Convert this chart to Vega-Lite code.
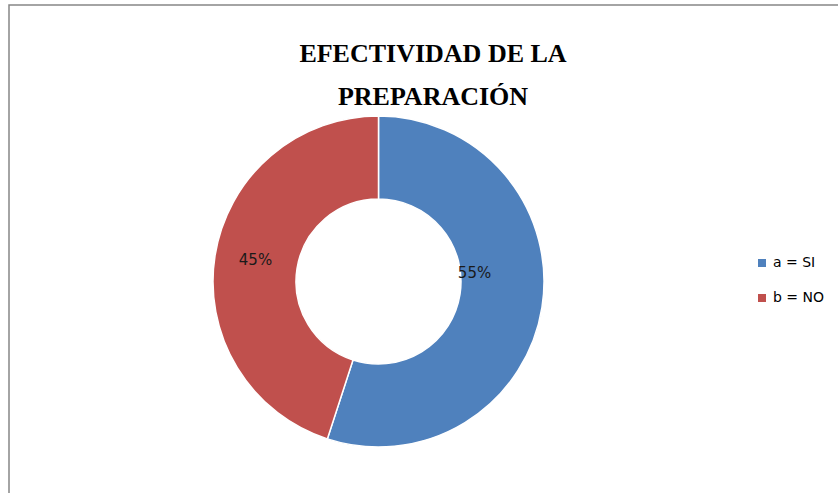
{
  "$schema": "https://vega.github.io/schema/vega-lite/v6.json",
  "width": 832,
  "height": 491,
  "autosize": "none",
  "padding": {"left": 9, "top": 5, "right": -3, "bottom": -3},
  "background": "white",
  "view": {"stroke": "#868686", "strokeWidth": 1.5, "fill": "white"},
  "config": {"view": {"stroke": "#868686", "strokeWidth": 1.5, "fill": "white"}},
  "title": {
    "text": ["EFECTIVIDAD DE LA", "PREPARACIÓN"],
    "font": "Liberation Serif",
    "fontSize": 26,
    "fontWeight": "bold",
    "color": "black",
    "anchor": "middle",
    "frame": "group",
    "dx": 8,
    "baseline": "top",
    "offset": -105,
    "lineHeight": 43
  },
  "data": {
    "values": [
      {"categoria": "a = SI", "proporcion": 0.55},
      {"categoria": "b = NO", "proporcion": 0.45}
    ]
  },
  "encoding": {
    "theta": {"field": "proporcion", "type": "quantitative", "stack": true},
    "order": {"field": "categoria", "type": "nominal"}
  },
  "layer": [
    {
      "mark": {
        "type": "arc",
        "outerRadius": 165.5,
        "innerRadius": 82.5,
        "stroke": "white",
        "strokeWidth": 1.5,
        "x": {"expr": "width/2 - 46.5"},
        "y": {"expr": "height/2 + 31"}
      },
      "encoding": {
        "color": {
          "field": "categoria",
          "type": "nominal",
          "scale": {"domain": ["a = SI", "b = NO"], "range": ["#4F81BD", "#C0504D"]},
          "legend": {
            "title": null,
            "orient": "none",
            "legendX": 746,
            "legendY": 251,
            "symbolType": "square",
            "symbolSize": 64,
            "symbolStrokeWidth": 0,
            "labelFont": "DejaVu Sans",
            "labelFontSize": 14,
            "labelColor": "black",
            "labelOffset": 4,
            "rowPadding": 21,
            "padding": 0
          }
        }
      }
    },
    {
      "mark": {
        "type": "text",
        "radius": 96.4,
        "thetaOffset": -0.246,
        "font": "DejaVu Sans",
        "fontSize": 15,
        "align": "center",
        "baseline": "middle",
        "x": {"expr": "width/2 - 46.5"},
        "y": {"expr": "height/2 + 31"}
      },
      "encoding": {
        "color": {"value": "#1a1a1a"},
        "text": {
          "condition": {"test": "datum.categoria == 'a = SI'", "field": "proporcion", "format": ".0%"},
          "value": ""
        }
      }
    },
    {
      "mark": {
        "type": "text",
        "radius": 124.8,
        "thetaOffset": 0.012,
        "font": "DejaVu Sans",
        "fontSize": 15,
        "align": "center",
        "baseline": "middle",
        "x": {"expr": "width/2 - 46.5"},
        "y": {"expr": "height/2 + 31"}
      },
      "encoding": {
        "color": {"value": "#1a1a1a"},
        "text": {
          "condition": {"test": "datum.categoria == 'b = NO'", "field": "proporcion", "format": ".0%"},
          "value": ""
        }
      }
    }
  ]
}
